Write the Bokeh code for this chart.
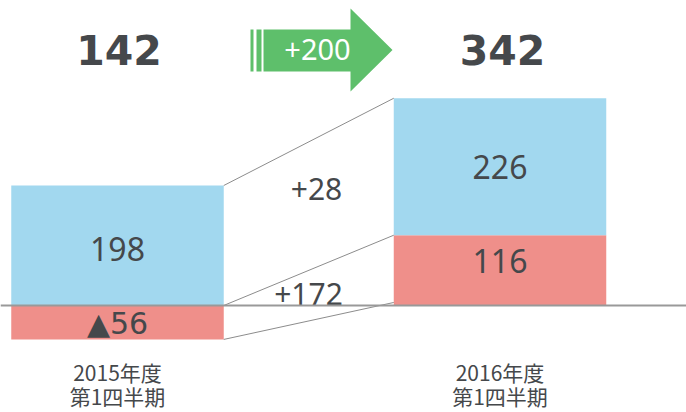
from bokeh.plotting import figure
from bokeh.models import Range1d, Span, ColumnDataSource
from bokeh.core.properties import value
from bokeh.embed import file_html
from bokeh.resources import INLINE

# ---- data ----
years = ["2015年度", "2016年度"]
quarters = ["第1四半期", "第1四半期"]
blue_vals = [198, 226]
red_vals = [-56, 116]
totals = [142, 342]
total_change = "+200"
blue_change = "+28"
red_change = "+172"
blue_labels = ["198", "226"]
red_labels = ["▲56", "116"]

# ---- layout helpers (pixel geometry -> data units) ----
W, H = 686, 412
K = 0.606          # px per unit
BASE = 305         # baseline px from top
C0, SP = 117, 382.5


def px_x(px):
    return (px - C0) / SP


def px_y(py):
    return (BASE - py) / K


BLUE = "#A2D8EF"
RED = "#EF8F8A"
GREEN = "#5EBF6B"
TXT = "#45484B"
LINE = "#8C8C8C"

p = figure(width=W, height=H, output_backend="svg", toolbar_location=None,
           x_range=Range1d(px_x(0), px_x(W)), y_range=Range1d(px_y(H), px_y(0)),
           min_border=0, x_axis_location=None, y_axis_location=None)
p.grid.visible = False
p.outline_line_color = None
p.background_fill_color = "white"
p.border_fill_color = "white"

xs = list(range(len(years)))
bw = 212.5 / SP

red_top = [max(r, 0) for r in red_vals]
red_bot = [min(r, 0) for r in red_vals]
blue_bot = red_top
blue_top = [b + t for b, t in zip(blue_vals, blue_bot)]

p.vbar(x=xs, width=bw, bottom=red_bot, top=red_top, fill_color=RED, line_color=None)
p.vbar(x=xs, width=bw, bottom=blue_bot, top=blue_top, fill_color=BLUE, line_color=None)

# baseline
p.add_layout(Span(location=0, dimension="width", line_color="#999999", line_width=2))

# connector lines
xl = xs[0] + bw / 2
xr = xs[1] - bw / 2
p.segment(x0=[xl, xl, xl], y0=[blue_top[0], red_top[0], red_bot[0]],
          x1=[xr, xr, xr], y1=[blue_top[1], red_top[1], red_bot[1] + 5],
          line_color=LINE, line_width=1)

# bar value labels
nfont = value("Noto Sans")
p.text(x=xs, y=[(a + b) / 2 for a, b in zip(blue_bot, blue_top)], text=blue_labels,
       text_align="center", text_baseline="middle", text_font=nfont,
       text_font_size="32px", text_color=TXT, y_offset=[3, 0])
red_src = ColumnDataSource(dict(
    x=xs, y=[(a + b) / 2 for a, b in zip(red_bot, red_top)], text=red_labels,
    font=["DejaVu Sans", "Noto Sans"], size=["30px", "32px"], dy=[1, -9]))
p.text(x="x", y="y", text="text", source=red_src, text_align="center",
       text_baseline="middle", text_font="font", text_font_size="size",
       text_color=TXT, y_offset="dy")

# totals
p.text(x=[xs[0] + 1.5 / SP, xs[1] + 2.5 / SP], y=[px_y(49)] * 2, text=[str(t) for t in totals],
       text_align="center", text_baseline="middle", text_font=value("DejaVu Sans"),
       text_font_style="bold", text_font_size="41px", text_color=TXT)

# change labels
p.text(x=[px_x(316), px_x(308)], y=[px_y(188), px_y(293)], text=[blue_change, red_change],
       text_align="center", text_baseline="middle", text_font=nfont,
       text_font_size="30px", text_color=TXT)

# green arrow
ax = [px_x(v) for v in (263, 350, 350, 392, 350, 350, 263)]
ay = [px_y(v) for v in (29, 29, 8, 49.5, 91, 71, 71)]
p.patch(x=ax, y=ay, fill_color=GREEN, line_color=None)
p.quad(left=[px_x(250), px_x(256)], right=[px_x(253), px_x(261)],
       top=[px_y(29)] * 2, bottom=[px_y(71)] * 2, fill_color=GREEN, line_color=None)
p.text(x=[px_x(317)], y=[px_y(49)], text=[total_change], text_align="center",
       text_baseline="middle", text_font=nfont, text_font_size="29px", text_color="white")

# category labels
jfont = value("Noto Sans CJK JP")
p.text(x=xs, y=[px_y(371)] * 2, text=years, text_align="center", text_baseline="middle",
       text_font=jfont, text_font_size="21px", text_color=TXT)
p.text(x=xs, y=[px_y(395)] * 2, text=quarters, text_align="center", text_baseline="middle",
       text_font=jfont, text_font_size="21px", text_color=TXT)

open("out.html", "w").write(file_html(p, INLINE))
